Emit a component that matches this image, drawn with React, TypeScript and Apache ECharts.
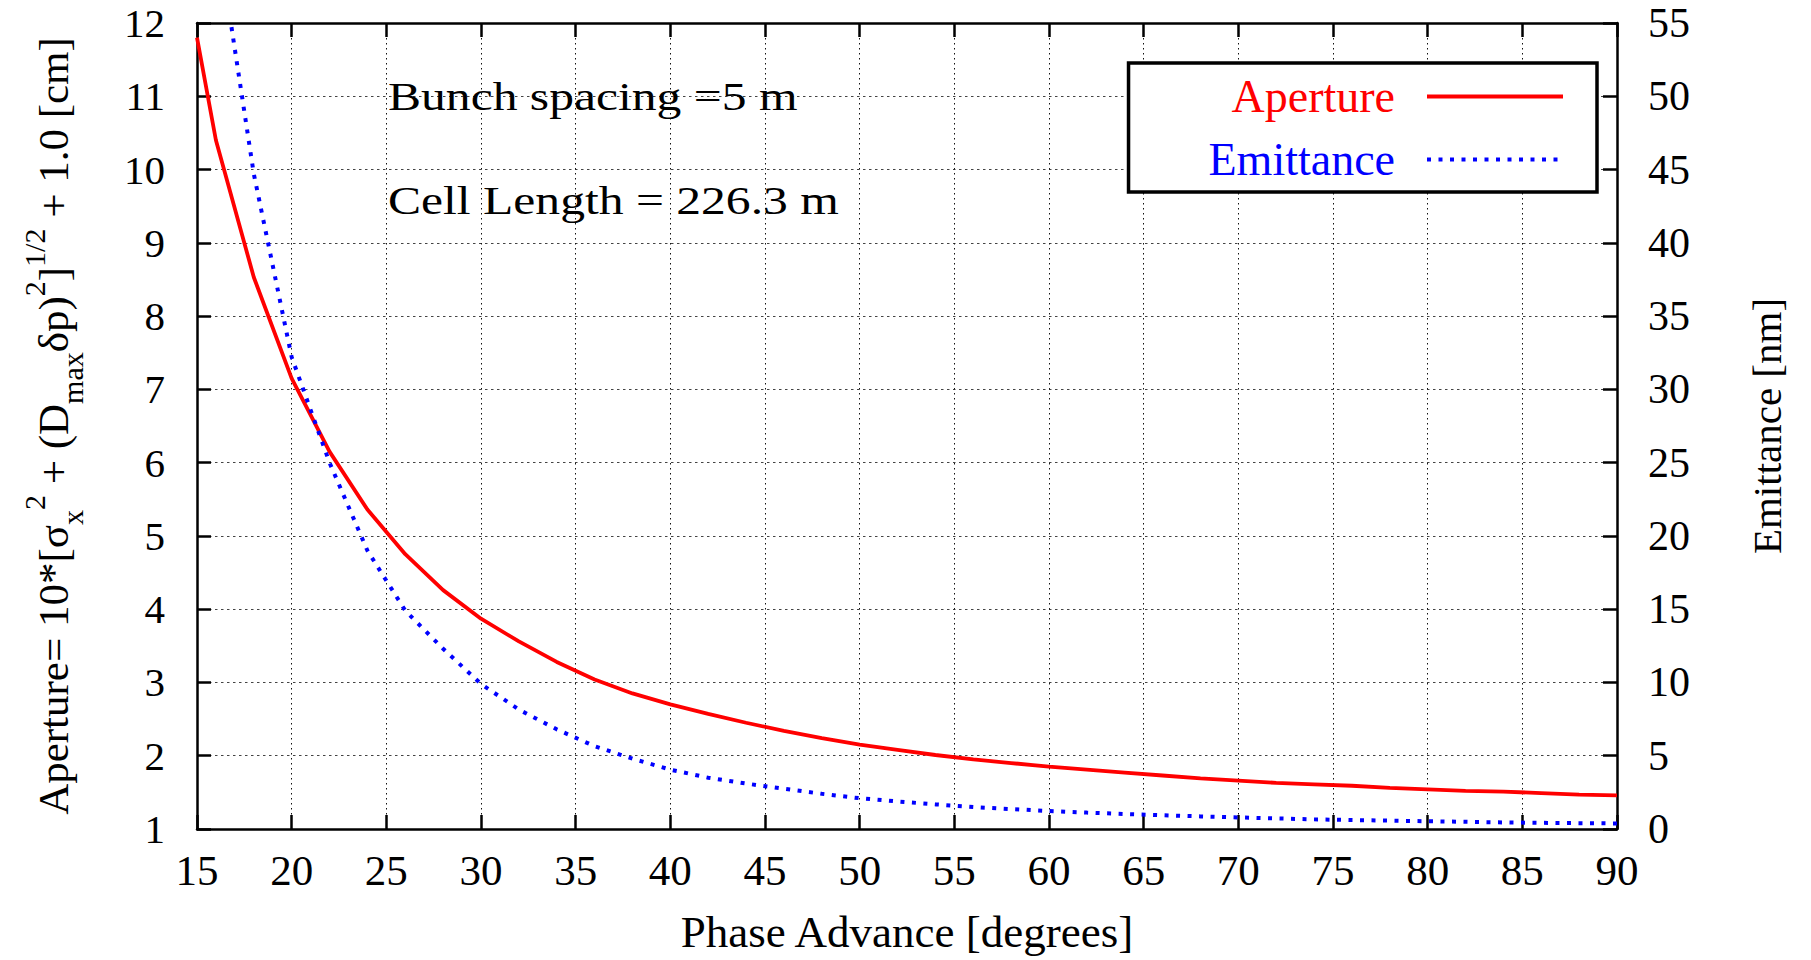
import React, { useEffect, useRef } from "react";
import * as echarts from "echarts";

// Phase advance [degrees]
const phaseAdvance = [15, 16, 18, 20, 22, 24, 26, 28, 30, 32, 34, 36, 38, 40, 42, 44, 46, 48, 50, 52, 54, 56, 58, 60, 62, 64, 66, 68, 70, 72, 74, 76, 78, 80, 82, 84, 86, 88, 90];
// Aperture [cm] (left axis)
const aperture = [11.8, 10.4, 8.53, 7.15, 6.15, 5.36, 4.75, 4.26, 3.87, 3.56, 3.28, 3.04, 2.85, 2.7, 2.57, 2.45, 2.34, 2.24, 2.15, 2.08, 2.01, 1.95, 1.9, 1.85, 1.81, 1.77, 1.73, 1.69, 1.66, 1.63, 1.61, 1.59, 1.56, 1.54, 1.52, 1.51, 1.49, 1.47, 1.46];
// Emittance [nm] (right axis)
const emittance: (number | null)[] = [null, 61.7, 44.7, 32.2, 25.0, 19.0, 14.9, 12.3, 9.9, 8.15, 6.8, 5.65, 4.8, 4.05, 3.5, 3.1, 2.75, 2.4, 2.1, 1.88, 1.68, 1.5, 1.36, 1.23, 1.12, 1.02, 0.94, 0.86, 0.79, 0.72, 0.66, 0.61, 0.57, 0.53, 0.49, 0.45, 0.42, 0.4, 0.38];

const seriesNames = ["Aperture", "Emittance"];
const annotations = ["Bunch spacing =5 m", "Cell Length = 226.3 m"];
const xTitle = "Phase Advance [degrees]";
const yRightTitle = "Emittance [nm]";

export default function App() {
  const ref = useRef<HTMLDivElement>(null);
  useEffect(() => {
    if (!ref.current) return;
    const chart = echarts.init(ref.current, null, { renderer: "svg" });
    const serif = "'Liberation Serif', 'Times New Roman', serif";
    const black = "#000";
    const axisLine = { show: true, onZero: false, lineStyle: { color: black, width: 2.5 } };
    const axisTick = { show: true, inside: true, length: 14, lineStyle: { color: black, width: 2.5 } };

    const apData = phaseAdvance.map((x, i) => [x, aperture[i]]);
    const emData = phaseAdvance
      .map((x, i) => [x, emittance[i]])
      .filter((p) => p[1] !== null);

    const option: any = {
      animation: false,
      backgroundColor: "#fff",
      grid: { left: 197, right: 194, top: 23, bottom: 131, containLabel: false },
      xAxis: [
        {
          type: "value",
          position: "bottom",
          min: 15,
          max: 90,
          interval: 5,
          name: xTitle,
          nameLocation: "middle",
          nameGap: 80,
          nameTextStyle: { fontFamily: serif, fontSize: 45, color: black },
          axisLine,
          axisTick,
          axisLabel: { margin: 20, fontFamily: serif, fontSize: 43, color: black },
          splitLine: { show: true, lineStyle: { color: "#111", width: 1, type: [1.5, 3.5] } },
        },
        {
          type: "value",
          position: "top",
          min: 15,
          max: 90,
          interval: 5,
          axisLine,
          axisTick,
          axisLabel: { show: false },
          splitLine: { show: false },
        },
      ],
      yAxis: [
        {
          type: "value",
          position: "left",
          min: 1,
          max: 12,
          interval: 1,
          name:
            "{n|Aperture= 10*[σ}{sub|x}{sup|2}{n| + (D}{sub|max}{n|δp)}{sup|2}{n|]}{sup|1/2}{n| + 1.0 [cm]}",
          nameLocation: "middle",
          nameRotate: 90,
          nameGap: 110,
          nameTextStyle: {
            fontFamily: serif,
            fontSize: 43,
            color: black,
            rich: {
              n: { fontFamily: serif, fontSize: 43, lineHeight: 68, color: black, verticalAlign: "middle" },
              sup: { fontFamily: serif, fontSize: 30, lineHeight: 38, color: black, verticalAlign: "top" },
              sub: { fontFamily: serif, fontSize: 30, lineHeight: 30, color: black, verticalAlign: "bottom" },
            },
          },
          axisLine,
          axisTick,
          axisLabel: { margin: 32, fontFamily: serif, fontSize: 41, color: black },
          splitLine: { show: true, lineStyle: { color: "#444", width: 1, type: [2.5, 3.5] } },
        },
        {
          type: "value",
          position: "right",
          min: 0,
          max: 55,
          interval: 5,
          name: yRightTitle,
          nameLocation: "middle",
          nameRotate: 90,
          nameGap: 129,
          nameTextStyle: { fontFamily: serif, fontSize: 41, color: black },
          axisLine,
          axisTick,
          axisLabel: { margin: 31, fontFamily: serif, fontSize: 42, color: black },
          splitLine: { show: false },
        },
      ],
      legend: {
        orient: "vertical",
        right: 214,
        top: 63,
        align: "right",
        padding: [10.5, 32, 9.5, 80],
        itemGap: 17,
        itemWidth: 136,
        itemHeight: 14,
        backgroundColor: "#fff",
        borderColor: black,
        borderWidth: 3.5,
        borderRadius: 0,
        selectedMode: false,
        textStyle: { fontFamily: serif, fontSize: 46, padding: [0, 27, 0, 0] },
        lineStyle: { width: 4 },
        itemStyle: { opacity: 0, color: "transparent", borderWidth: 0 },
        data: [
          { name: seriesNames[0], textStyle: { color: "#ff0000" } },
          { name: seriesNames[1], textStyle: { color: "#0000ff" } },
        ],
        z: 10,
      },
      graphic: [
        {
          type: "text",
          x: 388,
          y: 97,
          scaleX: 1.24,
          z: 5,
          style: {
            text: annotations[0],
            fontFamily: serif,
            fontSize: 40,
            fill: black,
            align: "left",
            verticalAlign: "middle",
          },
        },
        {
          type: "text",
          x: 388,
          y: 201,
          scaleX: 1.24,
          z: 5,
          style: {
            text: annotations[1],
            fontFamily: serif,
            fontSize: 40,
            fill: black,
            align: "left",
            verticalAlign: "middle",
          },
        },
      ],
      series: [
        {
          name: seriesNames[0],
          type: "line",
          xAxisIndex: 0,
          yAxisIndex: 0,
          data: apData,
          symbol: "none",
          showSymbol: false,
          clip: true,
          lineStyle: { color: "#ff0000", width: 3.8 },
          itemStyle: { color: "#ff0000" },
          z: 2,
        },
        {
          name: seriesNames[1],
          type: "line",
          xAxisIndex: 0,
          yAxisIndex: 1,
          data: emData,
          symbol: "none",
          showSymbol: false,
          clip: true,
          lineStyle: { color: "#0000ff", width: 4, type: [4, 7.5] },
          itemStyle: { color: "#0000ff" },
          z: 3,
        },
      ],
    };
    chart.setOption(option);
    return () => chart.dispose();
  }, []);
  return (
    <div
      ref={ref}
      style={{ position: "fixed", left: 0, top: 0, width: 1811, height: 960, background: "#fff" }}
    />
  );
}
